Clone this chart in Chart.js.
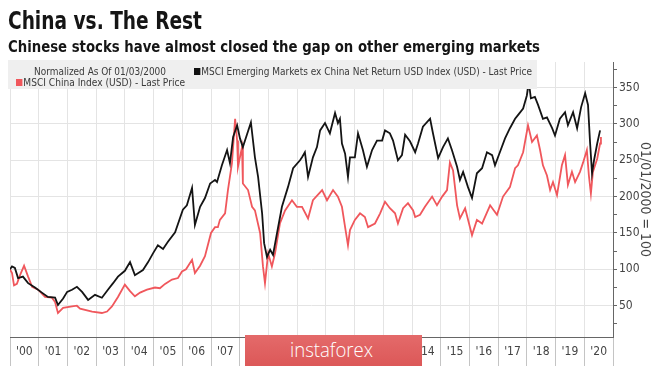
<!DOCTYPE html>
<html><head><meta charset="utf-8">
<script src="https://cdn.jsdelivr.net/npm/chart.js@4.4.1/dist/chart.umd.min.js"></script>
<style>
html,body{margin:0;padding:0;background:#fff;width:665px;height:366px;overflow:hidden;}
#wrap{position:relative;width:665px;height:366px;font-family:"Liberation Sans Narrow","DejaVu Sans Condensed","Liberation Sans",sans-serif;}
#c{position:absolute;left:0;top:0;}
.t{position:absolute;white-space:nowrap;transform-origin:0 0;line-height:1;}
#title{left:8px;top:9px;font-size:24px;font-weight:bold;color:#151515;}
#sub{left:8px;top:39px;font-size:16px;font-weight:bold;color:#151515;}
#legbox{position:absolute;left:8px;top:60px;width:529px;height:29px;background:#efefef;}
.lg{font-size:11px;color:#3a3a3a;}
.sq{display:inline-block;width:7px;height:7px;margin-right:1px;vertical-align:0px;}
#wm{position:absolute;left:245px;top:335px;width:177px;height:31px;background:linear-gradient(#e46a6a,#dc5858);}
#wmt{position:absolute;left:290px;top:339px;font-family:"Open Sans","Liberation Sans",sans-serif;font-size:21px;color:#fff;font-weight:300;}
</style></head>
<body><div id="wrap">
<canvas id="c" width="665" height="366"></canvas>
<div id="title" class="t" data-w="194">China vs. The Rest</div>
<div id="sub" class="t" data-w="532">Chinese stocks have almost closed the gap on other emerging markets</div>
<div id="legbox"></div>
<div id="l1" class="t lg" style="left:34px;top:66px" data-w="132">Normalized As Of 01/03/2000</div>
<div id="l2" class="t lg" style="left:194px;top:66px" data-w="338"><span class="sq" style="background:#111"></span>MSCI Emerging Markets ex China Net Return USD Index (USD) - Last Price</div>
<div id="l3" class="t lg" style="left:16px;top:77px" data-w="169"><span class="sq" style="background:#f0575c"></span>MSCI China Index (USD) - Last Price</div>
<div id="wm"></div>
<div id="wmt" class="t" data-w="83">instaforex</div>
</div>
<script>
// MSCI Emerging Markets ex China (normalized, 2000 = 100)
const emYears = [2000.00,2000.07,2000.17,2000.28,2000.45,2000.63,2000.87,
 2001.11,2001.32,2001.57,2001.67,2001.85,2001.99,
 2002.16,2002.33,2002.51,2002.72,2002.96,
 2003.20,2003.41,2003.59,2003.76,
 2004.00,2004.18,2004.35,2004.63,2004.81,2004.98,
 2005.15,2005.33,2005.50,2005.75,
 2006.02,2006.16,2006.34,2006.44,2006.62,2006.79,2006.97,
 2007.14,2007.21,2007.38,2007.56,2007.66,2007.77,2007.91,
 2008.01,2008.11,2008.25,2008.39,2008.53,2008.64,2008.78,2008.85,2008.95,
 2009.06,2009.16,2009.30,2009.47,2009.68,2009.86,
 2010.10,2010.17,2010.27,2010.38,2010.55,2010.69,2010.80,2010.97,
 2011.14,2011.32,2011.42,2011.49,2011.56,2011.67,2011.77,2011.84,
 2012.01,2012.12,2012.29,2012.43,2012.61,2012.78,2012.96,
 2013.06,2013.23,2013.34,2013.51,2013.65,2013.76,2013.93,
 2014.11,2014.21,2014.38,2014.63,2014.73,2014.91,
 2015.08,2015.25,2015.39,2015.57,2015.67,2015.78,2015.95,
 2016.09,2016.26,2016.44,2016.61,2016.79,2016.89,
 2017.06,2017.24,2017.41,2017.59,2017.69,2017.87,
 2018.00,2018.07,2018.14,2018.28,2018.39,2018.56,2018.70,2018.88,2018.98,
 2019.15,2019.33,2019.43,2019.61,2019.75,2019.89,
 2020.03,2020.13,2020.20,2020.27,2020.34,2020.45,2020.55];
const emValues = [100,104,102,88,90,81,75,
 68,62,61,51,60,69,
 72,76,69,58,65,
 61,72,81,90,
 98,110,92,99,110,122,
 133,128,138,151,
 182,188,212,161,186,198,218,
 223,220,243,264,246,282,298,
 280,268,285,302,254,227,177,136,117,
 127,120,150,186,213,239,
 250,254,261,227,254,268,291,301,
 287,315,301,307,273,259,227,254,
 254,287,264,241,264,277,277,
 291,287,277,250,257,285,276,
 261,273,296,307,287,253,
 268,280,264,241,223,234,213,
 198,232,239,261,257,243,
 261,280,294,307,312,321,
 339,357,335,337,326,307,309,294,284,
 307,316,298,316,294,323,
 342,326,275,232,250,273,291];

// MSCI China (normalized, 2000 = 100)
const cnYears = [2000.00,2000.07,2000.14,2000.24,2000.35,2000.49,2000.63,2000.77,2000.98,
 2001.22,2001.46,2001.57,2001.67,2001.85,
 2002.16,2002.33,2002.44,2002.86,
 2003.20,2003.38,2003.55,2003.76,
 2004.00,2004.18,2004.35,2004.53,2004.77,
 2005.05,2005.22,2005.40,2005.64,2005.85,2005.99,
 2006.13,2006.34,2006.44,2006.62,2006.79,
 2007.00,2007.14,2007.24,2007.31,2007.49,2007.59,2007.73,2007.84,2007.91,2007.94,
 2008.08,2008.11,2008.29,2008.43,2008.53,2008.71,2008.81,2008.88,2008.99,
 2009.12,2009.23,2009.40,2009.58,2009.82,2009.99,
 2010.17,2010.38,2010.55,2010.87,
 2011.04,2011.25,2011.42,2011.56,2011.67,2011.77,2011.84,
 2012.01,2012.19,2012.36,2012.47,2012.71,2012.89,
 2013.06,2013.23,2013.41,2013.51,2013.69,2013.86,
 2014.04,2014.11,2014.28,2014.45,2014.70,2014.87,
 2015.05,2015.22,2015.32,2015.43,2015.57,2015.67,2015.85,
 2016.09,2016.26,2016.44,2016.72,2016.96,
 2017.17,2017.41,2017.59,2017.69,2017.87,
 2018.04,2018.18,2018.35,2018.46,2018.56,2018.70,2018.81,2018.91,
 2019.05,2019.22,2019.33,2019.43,2019.57,2019.68,2019.85,2019.96,
 2020.09,2020.16,2020.23,2020.30,2020.45,2020.55,2020.58];
const cnValues = [100,95,78,80,92,105,90,76,72,
 62,61,55,40,47,
 49,50,46,42,
 40,42,49,62,
 79,70,63,68,72,
 75,74,80,86,88,97,
 100,113,95,105,118,
 150,158,158,168,177,209,246,307,277,241,
 268,218,209,186,181,150,104,81,122,
 104,122,163,181,195,186,
 186,170,195,209,
 195,209,200,186,158,133,154,
 168,177,172,158,163,177,
 193,184,177,163,184,191,
 181,172,175,186,200,188,
 200,209,247,236,188,170,184,
 147,168,163,188,175,
 200,213,239,243,261,
 298,275,284,264,243,229,209,220,
 202,243,257,216,234,220,234,247,
 264,229,204,234,252,273,282];

const yearLabels = ["'00","'01","'02","'03","'04","'05","'06","'07","'08","'09","'10",
 "'11","'12","'13","'14","'15","'16","'17","'18","'19","'20"];
const firstYear = 2000, lastYear = 2021;
const yTickValues = [50,100,150,200,250,300,350];
const yMinorStep = 25;
const yTitle = "01/01/2000 = 100";

const FONT = '"Liberation Sans Narrow","DejaVu Sans Condensed","Liberation Sans",sans-serif';

function pts(xs, ys){ return xs.map((x,i)=>({x:x, y:ys[i]})); }

new Chart(document.getElementById('c'), {
  type: 'line',
  data: { datasets: [
    { label: 'MSCI Emerging Markets ex China Net Return USD Index (USD) - Last Price',
      data: pts(emYears, emValues), borderColor: '#141414', borderWidth: 1.8,
      pointRadius: 0, tension: 0, fill: false },
    { label: 'MSCI China Index (USD) - Last Price',
      data: pts(cnYears, cnValues), borderColor: '#f0575c', borderWidth: 1.8,
      pointRadius: 0, tension: 0, fill: false }
  ]},
  options: {
    responsive: false, animation: false, parsing: true,
    layout: { padding: { left: 10, top: 62, right: 0, bottom: 0 } },
    plugins: { legend: { display: false }, tooltip: { enabled: false }, title: { display: false } },
    scales: {
      x: {
        type: 'linear', position: 'bottom', min: firstYear, max: lastYear,
        afterBuildTicks: (s) => {
          const t = [];
          for (let y = firstYear; y <= lastYear; y++) {
            t.push({ value: y });
            if (y < lastYear) t.push({ value: y + 0.5 });
          }
          s.ticks = t;
        },
        afterFit: (s) => { s.height = 29; },
        ticks: {
          autoSkip: false, maxRotation: 0, minRotation: 0, padding: -22,
          color: '#444', font: { size: 12, family: FONT },
          callback: (v) => Number.isInteger(v) ? '' : yearLabels[Math.floor(v) - firstYear]
        },
        grid: {
          color: (c) => (c.tick && Number.isInteger(c.tick.value)) ? '#e4e4e4' : 'rgba(0,0,0,0)',
          tickColor: (c) => (c.tick && Number.isInteger(c.tick.value)) ? '#c4c4c4' : 'rgba(0,0,0,0)',
          tickLength: 30, lineWidth: 1
        },
        border: { color: '#666', width: 1 }
      },
      y: {
        type: 'linear', position: 'right', min: 7, max: 385,
        afterBuildTicks: (s) => {
          const t = [];
          for (let v = yMinorStep; v < 385; v += yMinorStep) t.push({ value: v });
          s.ticks = t;
        },
        afterFit: (s) => { s.width = 52; },
        ticks: {
          padding: 2, color: '#444', font: { size: 12, family: FONT },
          callback: (v) => yTickValues.includes(v) ? String(v) : ''
        },
        grid: {
          color: (c) => (c.tick && yTickValues.includes(c.tick.value)) ? '#e4e4e4' : 'rgba(0,0,0,0)',
          tickColor: '#666', tickLength: 4
        },
        border: { color: '#666', width: 1 },
        title: { display: true, text: yTitle, color: '#444',
          font: { size: 14, family: FONT }, padding: { top: 12, bottom: 0 } }
      }
    }
  }
});

document.querySelectorAll('.t[data-w]').forEach(el => {
  const w = el.getBoundingClientRect().width;
  const target = parseFloat(el.dataset.w);
  if (w > 0) el.style.transform = 'scaleX(' + (target / w) + ')';
});
</script>
</body></html>
